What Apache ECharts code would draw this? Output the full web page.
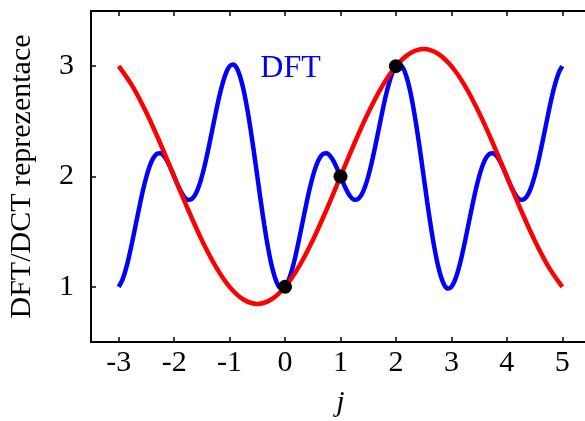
<!DOCTYPE html>
<html>
<head>
<meta charset="utf-8">
<script src="https://cdn.jsdelivr.net/npm/echarts@6/dist/echarts.min.js"></script>
<style>
  html, body { margin: 0; padding: 0; background: #fff; }
  #chart { width: 585px; height: 421px; }
</style>
</head>
<body>
<div id="chart"></div>
<script>
// tick labels
var xTicks = [-3, -2, -1, 0, 1, 2, 3, 4, 5];
var yTicks = [1, 2, 3];

// DFT curve (blue), sampled every 1/16
var dftJ = [
    -3, -2.9375, -2.875, -2.8125, -2.75, -2.6875, -2.625, -2.5625,
    -2.5, -2.4375, -2.375, -2.3125, -2.25, -2.1875, -2.125, -2.0625,
    -2, -1.9375, -1.875, -1.8125, -1.75, -1.6875, -1.625, -1.5625,
    -1.5, -1.4375, -1.375, -1.3125, -1.25, -1.1875, -1.125, -1.0625,
    -1, -0.9375, -0.875, -0.8125, -0.75, -0.6875, -0.625, -0.5625,
    -0.5, -0.4375, -0.375, -0.3125, -0.25, -0.1875, -0.125, -0.0625,
    0, 0.0625, 0.125, 0.1875, 0.25, 0.3125, 0.375, 0.4375,
    0.5, 0.5625, 0.625, 0.6875, 0.75, 0.8125, 0.875, 0.9375,
    1, 1.0625, 1.125, 1.1875, 1.25, 1.3125, 1.375, 1.4375,
    1.5, 1.5625, 1.625, 1.6875, 1.75, 1.8125, 1.875, 1.9375,
    2, 2.0625, 2.125, 2.1875, 2.25, 2.3125, 2.375, 2.4375,
    2.5, 2.5625, 2.625, 2.6875, 2.75, 2.8125, 2.875, 2.9375,
    3, 3.0625, 3.125, 3.1875, 3.25, 3.3125, 3.375, 3.4375,
    3.5, 3.5625, 3.625, 3.6875, 3.75, 3.8125, 3.875, 3.9375,
    4, 4.0625, 4.125, 4.1875, 4.25, 4.3125, 4.375, 4.4375,
    4.5, 4.5625, 4.625, 4.6875, 4.75, 4.8125, 4.875, 4.9375,
    5];
var dftVal = [
    1.000, 1.058, 1.154, 1.278, 1.423, 1.577, 1.731, 1.875,
    2.000, 2.100, 2.169, 2.206, 2.211, 2.187, 2.139, 2.074,
    2.000, 1.926, 1.861, 1.813, 1.789, 1.794, 1.831, 1.900,
    2.000, 2.125, 2.269, 2.423, 2.577, 2.722, 2.846, 2.942,
    3.000, 3.016, 2.986, 2.909, 2.789, 2.629, 2.438, 2.225,
    2.000, 1.775, 1.562, 1.371, 1.211, 1.091, 1.014, 0.984,
    1.000, 1.058, 1.154, 1.278, 1.423, 1.577, 1.731, 1.875,
    2.000, 2.100, 2.169, 2.206, 2.211, 2.187, 2.139, 2.074,
    2.000, 1.926, 1.861, 1.813, 1.789, 1.794, 1.831, 1.900,
    2.000, 2.125, 2.269, 2.423, 2.577, 2.722, 2.846, 2.942,
    3.000, 3.016, 2.986, 2.909, 2.789, 2.629, 2.438, 2.225,
    2.000, 1.775, 1.562, 1.371, 1.211, 1.091, 1.014, 0.984,
    1.000, 1.058, 1.154, 1.278, 1.423, 1.577, 1.731, 1.875,
    2.000, 2.100, 2.169, 2.206, 2.211, 2.187, 2.139, 2.074,
    2.000, 1.926, 1.861, 1.813, 1.789, 1.794, 1.831, 1.900,
    2.000, 2.125, 2.269, 2.423, 2.577, 2.722, 2.846, 2.942,
    3.000];

// DCT curve (red), sampled every 1/4
var dctJ = [-3, -2.75, -2.5, -2.25, -2, -1.75, -1.5, -1.25,
    -1, -0.75, -0.5, -0.25, 0, 0.25, 0.5, 0.75,
    1, 1.25, 1.5, 1.75, 2, 2.25, 2.5, 2.75,
    3, 3.25, 3.5, 3.75, 4, 4.25, 4.5, 4.75, 5];
var dctVal = [3.0, 2.817, 2.577, 2.299, 2.0, 1.701, 1.423, 1.184,
    1.0, 0.885, 0.845, 0.885, 1.0, 1.184, 1.423, 1.701,
    2.0, 2.299, 2.577, 2.817, 3.0, 3.115, 3.155, 3.115,
    3.0, 2.817, 2.577, 2.299, 2.0, 1.701, 1.423, 1.184, 1.0];

// sample points
var ptJ = [0, 1, 2];
var ptVal = [1, 2, 3];

function pairs(xs, ys) {
    return xs.map(function (x, i) { return [x, ys[i]]; });
}

var font = '"Liberation Serif", "DejaVu Serif", serif';
var axisStyle = { onZero: false, lineStyle: { color: '#000', width: 2 } };
var tickStyle = { inside: true, length: 5, lineStyle: { color: '#000', width: 1.5 } };

var chart = echarts.init(document.getElementById('chart'));
chart.setOption({
    animation: false,
    // right border sits just past the canvas edge, as in the original
    grid: { left: 91, top: 11, width: 499, bottom: 79, outerBoundsMode: 'none' },
    xAxis: [{
        type: 'value', min: -3.5, max: 5.5,
        name: 'j', nameLocation: 'middle', nameGap: 46,
        nameTextStyle: { fontFamily: font, fontSize: 30, fontStyle: 'italic', color: '#000' },
        axisLine: axisStyle,
        axisTick: Object.assign({ customValues: xTicks }, tickStyle),
        axisLabel: { customValues: xTicks, margin: 6, fontFamily: font, fontSize: 30, color: '#000' },
        splitLine: { show: false }
    }, {
        type: 'value', min: -3.5, max: 5.5, position: 'top',
        axisLine: axisStyle,
        axisTick: Object.assign({ customValues: xTicks }, tickStyle),
        axisLabel: { show: false },
        splitLine: { show: false }
    }],
    yAxis: [{
        type: 'value', min: 0.5, max: 3.5,
        name: 'DFT/DCT reprezentace', nameLocation: 'middle', nameGap: 54,
        nameTextStyle: { fontFamily: font, fontSize: 30, color: '#000' },
        axisLine: axisStyle,
        axisTick: Object.assign({ customValues: yTicks }, tickStyle),
        axisLabel: { customValues: yTicks, margin: 17, fontFamily: font, fontSize: 30, color: '#000' },
        splitLine: { show: false }
    }, {
        type: 'value', min: 0.5, max: 3.5, position: 'right',
        axisLine: axisStyle,
        axisTick: Object.assign({ customValues: yTicks }, tickStyle),
        axisLabel: { show: false },
        splitLine: { show: false }
    }],
    series: [{
        name: 'DFT',
        type: 'line',
        data: pairs(dftJ, dftVal),
        smooth: 0.25,
        showSymbol: false,
        lineStyle: { color: '#0000ff', width: 4.5 },
        markPoint: {
            symbol: 'circle', symbolSize: 0,
            label: { show: true, formatter: 'DFT', fontFamily: font, fontSize: 32, color: '#0000ff' },
            data: [{ coord: [0.1, 2.98] }]
        }
    }, {
        name: 'DCT',
        type: 'line',
        data: pairs(dctJ, dctVal),
        smooth: 0.3,
        showSymbol: false,
        lineStyle: { color: '#ff0000', width: 4.5 }
    }, {
        type: 'scatter',
        data: pairs(ptJ, ptVal),
        symbolSize: 14,
        itemStyle: { color: '#000', opacity: 1 },
        z: 5
    }]
});
</script>
</body>
</html>
